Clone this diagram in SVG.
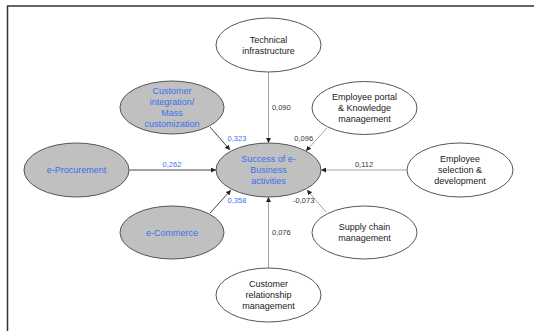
<svg xmlns="http://www.w3.org/2000/svg" width="534" height="331" viewBox="0 0 534 331">
<defs>
<marker id="ah" viewBox="0 0 10 10" refX="10" refY="5" markerWidth="5" markerHeight="5" orient="auto" markerUnits="userSpaceOnUse">
<path d="M0,0 L10,5 L0,10 z" fill="#222"/>
</marker>
<style>
.n{stroke:#555;stroke-width:1}
.w{fill:#fff}
.g{fill:#c0c0c0}
text{font-family:"Liberation Sans",Arial,sans-serif;text-anchor:middle}
.t{font-size:9px;fill:#222}
.b{font-size:9px;fill:#3a6ff0}
.l{font-size:7.5px;fill:#333}
.lb{font-size:7.5px;fill:#3a6ff0}
.c{fill:none;stroke:#333;stroke-width:0.9;marker-end:url(#ah)}
.cl{fill:none;stroke:#999;stroke-width:0.9;marker-end:url(#ah)}
</style>
</defs>
<rect width="534" height="331" fill="#fff"/>
<path d="M7.5,331 V6 H534" fill="none" stroke="#333" stroke-width="1.5"/>
<g id="connectors">
<line class="cl" x1="268.5" y1="72" x2="268.5" y2="143"/>
<line class="c" x1="210" y1="127" x2="230" y2="150"/>
<line class="c" x1="129" y1="170" x2="216" y2="170"/>
<line class="c" x1="210" y1="213" x2="231" y2="190"/>
<line class="cl" x1="327" y1="128" x2="306" y2="151"/>
<line class="cl" x1="407" y1="170" x2="321" y2="170"/>
<line class="cl" x1="326" y1="212" x2="307" y2="190"/>
<line class="cl" x1="268.5" y1="268" x2="268.5" y2="197"/>
<text class="l" x="281.3" y="109.5">0,090</text>
<text class="lb" x="237" y="141">0,323</text>
<text class="lb" x="172" y="167">0,262</text>
<text class="lb" x="237" y="203">0,358</text>
<text class="l" x="303.7" y="141">0,096</text>
<text class="l" x="364" y="167">0,112</text>
<text class="l" x="303.7" y="203">-0,073</text>
<text class="l" x="281.3" y="234.5">0,076</text>
</g>
<g id="technical">
<ellipse class="n w" cx="268.5" cy="45" rx="52.5" ry="27"/>
<text class="t" x="268.5" y="43.2">Technical</text>
<text class="t" x="268.5" y="54">infrastructure</text>
</g>
<g id="customer-integration">
<ellipse class="n g" cx="172" cy="107.5" rx="52" ry="26.5"/>
<text class="b" x="172" y="94">Customer</text>
<text class="b" x="172" y="105">integration/</text>
<text class="b" x="172" y="116">Mass</text>
<text class="b" x="172" y="127">customization</text>
</g>
<g id="e-procurement">
<ellipse class="n g" cx="76.5" cy="170" rx="52.5" ry="27"/>
<text class="b" x="76.5" y="173">e-Procurement</text>
</g>
<g id="success">
<ellipse class="n g" cx="268.5" cy="170" rx="52.5" ry="27"/>
<text class="b" x="268.5" y="162">Success of e-</text>
<text class="b" x="268.5" y="173">Business</text>
<text class="b" x="268.5" y="184">activities</text>
</g>
<g id="e-commerce">
<ellipse class="n g" cx="172" cy="232.5" rx="52" ry="26.5"/>
<text class="b" x="172" y="236">e-Commerce</text>
</g>
<g id="employee-portal">
<ellipse class="n w" cx="364.5" cy="108" rx="52.5" ry="26.5"/>
<text class="t" x="364.5" y="100">Employee portal</text>
<text class="t" x="364.5" y="111">&amp; Knowledge</text>
<text class="t" x="364.5" y="122">management</text>
</g>
<g id="employee-selection">
<ellipse class="n w" cx="460" cy="170" rx="53" ry="27"/>
<text class="t" x="460" y="162">Employee</text>
<text class="t" x="460" y="173">selection &amp;</text>
<text class="t" x="460" y="184">development</text>
</g>
<g id="supply-chain">
<ellipse class="n w" cx="364.5" cy="232.5" rx="52.5" ry="26.5"/>
<text class="t" x="364.5" y="230">Supply chain</text>
<text class="t" x="364.5" y="241">management</text>
</g>
<g id="crm">
<ellipse class="n w" cx="268.5" cy="295" rx="52.5" ry="27"/>
<text class="t" x="268.5" y="287">Customer</text>
<text class="t" x="268.5" y="298">relationship</text>
<text class="t" x="268.5" y="309">management</text>
</g>
</svg>
